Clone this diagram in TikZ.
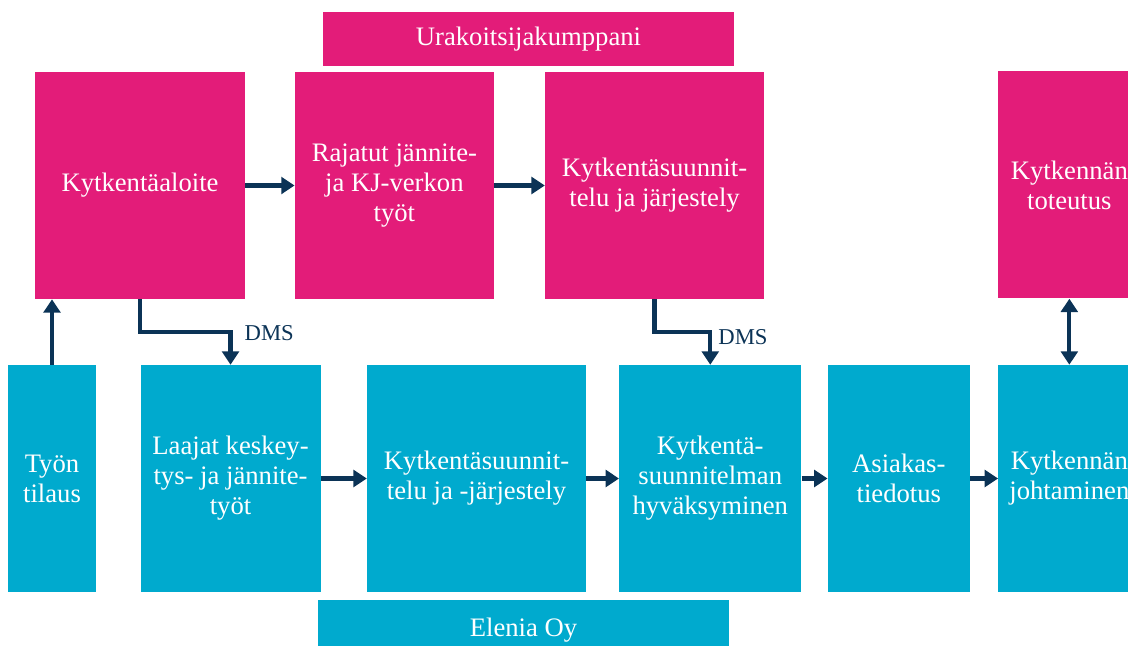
\documentclass[tikz,border=0pt]{standalone}
\usepackage{fontspec}
\setmainfont{Liberation Serif}
\usetikzlibrary{arrows.meta, positioning}

\definecolor{eleniapink}{RGB}{227,28,121}
\definecolor{eleniacyan}{RGB}{0,170,206}
\definecolor{arrownavy}{RGB}{11,51,86}

\begin{document}
\begin{tikzpicture}[
    x=0.75pt, y=-0.75pt,
    node distance=37.5pt,
    partner/.style={rectangle, fill=eleniapink, text=white, inner sep=2pt,
                    minimum height=170.25pt, align=center, font=\fontsize{20}{22.5}\selectfont},
    elenia/.style={rectangle, fill=eleniacyan, text=white, inner sep=2pt,
                   minimum height=170.25pt, align=center, font=\fontsize{20}{22.5}\selectfont},
    banner/.style={rectangle, text=white, minimum height=40.5pt, minimum width=308.25pt,
                   align=center, font=\fontsize{20}{22}\selectfont},
    arrow/.style={-{Triangle[length=10pt, width=12.5pt]}, line width=3.2pt, draw=arrownavy},
    twoway/.style={{Triangle[length=10pt, width=12.5pt]}-{Triangle[length=10pt, width=12.5pt]},
                   line width=3.2pt, draw=arrownavy},
    dms/.style={text=arrownavy, inner sep=0pt, font=\fontsize{17}{20}\selectfont}
]
\useasboundingbox (0,0) rectangle (1128,646);
\clip (0,0) rectangle (1128,646);

% urakoitsijan puoli
\node[banner, fill=eleniapink] (urakoitsija) at (528.5,39) {Urakoitsijakumppani};
\node[partner, minimum width=157.5pt] (aloite) at (140,185.5) {Kytkentäaloite};
\node[partner, minimum width=149.25pt, right=37pt of aloite] (rajatut) {Rajatut jännite-\\ja KJ-verkon\\työt};
\node[partner, minimum width=164.25pt, right=38pt of rajatut] (suunnittelu) {Kytkentäsuunnit-\\telu ja järjestely};

% Elenian puoli
\node[elenia, minimum width=66pt] (tilaus) at (52,478.5) {Työn\\tilaus};
\node[elenia, minimum width=135pt, right=33pt of tilaus] (laajat) {Laajat keskey-\\tys- ja jännite-\\työt};
\node[elenia, minimum width=164.25pt, right=34.5pt of laajat] (jarjestely) {Kytkentäsuunnit-\\telu ja -järjestely};
\node[elenia, minimum width=136.5pt, right=24.5pt of jarjestely] (hyvaksyminen) {Kytkentä-\\suunnitelman\\hyväksyminen};
\node[elenia, minimum width=106.5pt, right=19.5pt of hyvaksyminen] (tiedotus) {Asiakas-\\tiedotus};
\node[elenia, minimum width=106.5pt, right=21pt of tiedotus] (johtaminen) {Kytkennän\\johtaminen};
\node[partner, minimum width=106.5pt, above=49.5pt of johtaminen] (toteutus) {Kytkennän\\toteutus};
\node[banner, fill=eleniacyan, minimum height=45pt] (eleniaoy) at (523.5,630) {Elenia Oy};

\draw[arrow] (aloite) -- (rajatut);
\draw[arrow] (rajatut) -- (suunnittelu);
\draw[arrow] (tilaus.north) -- (tilaus.north |- aloite.south);
\draw[arrow] (aloite.south) -- ++(0,-24.75pt) -| (laajat.north)
    node[dms, pos=0.5, anchor=west, xshift=9pt, yshift=-1pt] (dms1) {DMS};
\draw[arrow] (suunnittelu.south) -- ++(0,-24.75pt) -| (hyvaksyminen.north)
    node[dms, pos=0.5, anchor=west, xshift=4.5pt, yshift=-4pt] (dms2) {DMS};
\draw[arrow] (laajat) -- (jarjestely);
\draw[arrow] (jarjestely) -- (hyvaksyminen);
\draw[arrow] (hyvaksyminen) -- (tiedotus);
\draw[arrow] (tiedotus) -- (johtaminen);
\draw[twoway] (toteutus) -- (johtaminen);

\end{tikzpicture}
\end{document}
